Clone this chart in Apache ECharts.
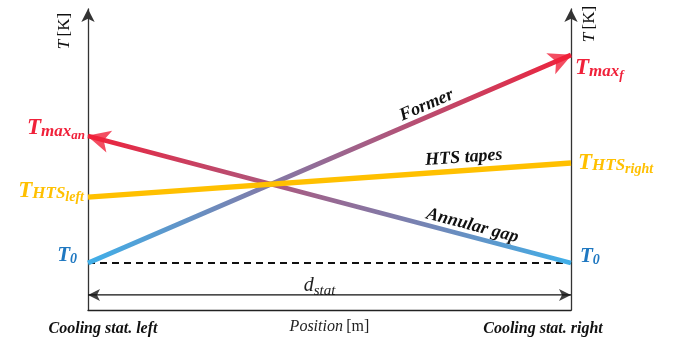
<!DOCTYPE html>
<html>
<head>
<meta charset="utf-8">
<script src="https://cdn.jsdelivr.net/npm/echarts@6/dist/echarts.min.js"></script>
<style>html,body{margin:0;padding:0;background:#fff}</style>
</head>
<body>
<div id="chart" style="width:681px;height:347px"></div>
<script>
// position along the section, left station -> right station (normalised)
const positions = [0, 1]
const tickLabels = ['Cooling stat. left', 'Cooling stat. right']
// schematic temperatures (arbitrary units)
const formerTemp = [1.56, 8.47]
const annularTemp = [5.78, 1.56]
const htsTemp = [3.75, 4.88]
const baseTemp = [1.56, 1.56]
const dstatLevel = [0.5, 0.5]
const yRange = [0, 10]

const BLUE = '#3fb0ea'
const RED = '#f0213a'
const GOLD = '#ffc000'
const T0_BLUE = '#1f78c1'
const SERIF = 'Liberation Serif'

const pairs = (ys) => positions.map((x, i) => [x, ys[i]])

const chart = echarts.init(document.getElementById('chart'))

const grad = (c0, c1) =>
  new echarts.graphic.LinearGradient(0, 0, 1, 0, [
    { offset: 0, color: c0 },
    { offset: 1, color: c1 },
  ])

const yAxisBase = (position) => ({
  type: 'value',
  position,
  min: yRange[0],
  max: yRange[1],
  axisLine: {
    show: true,
    symbol: ['none', 'arrow'],
    symbolSize: [10, 13],
    lineStyle: { color: '#333', width: 1.3 },
  },
  axisTick: { show: false },
  axisLabel: { show: false },
  splitLine: { show: false },
})

const option = {
  animation: false,
  grid: { left: 88, right: 110, top: 9, bottom: 37, outerBoundsMode: 'none' },
  xAxis: {
    type: 'value',
    min: 0,
    max: 1,
    interval: 1,
    axisLine: { show: true, lineStyle: { color: '#222', width: 1.3 } },
    axisTick: { show: false },
    splitLine: { show: false },
    axisLabel: {
      margin: 11,
      formatter: (v) => (v === 0 ? '{l|' + tickLabels[0] + '}' : '{r|' + tickLabels[1] + '}'),
      rich: {
        l: { fontFamily: SERIF, fontSize: 16, fontWeight: 'bold', fontStyle: 'italic', color: '#111', padding: [0, 0, 0, 30] },
        r: { fontFamily: SERIF, fontSize: 16, fontWeight: 'bold', fontStyle: 'italic', color: '#111', padding: [0, 56, 0, 0] },
      },
    },
    name: '{i|Position} {n|[m]}',
    nameLocation: 'middle',
    nameGap: 9,
    nameMoveOverlap: false,
    nameTextStyle: {
      rich: {
        i: { fontFamily: SERIF, fontSize: 16, fontStyle: 'italic', color: '#222' },
        n: { fontFamily: SERIF, fontSize: 16, color: '#222' },
      },
    },
  },
  yAxis: [yAxisBase('left'), yAxisBase('right')],
  series: [
    {
      name: 'Annular gap', type: 'line', data: pairs(annularTemp), symbol: 'none', z: 2,
      lineStyle: { width: 4.8, color: grad(RED, BLUE) },
    },
    {
      name: 'Former', type: 'line', data: pairs(formerTemp), symbol: 'none', z: 3,
      lineStyle: { width: 4.8, color: grad(BLUE, RED) },
    },
    {
      name: 'HTS tapes', type: 'line', data: pairs(htsTemp), symbol: 'none', z: 4,
      lineStyle: { width: 5.5, color: GOLD },
    },
    {
      name: 'T0', type: 'line', data: pairs(baseTemp), symbol: 'none', z: 1,
      lineStyle: { width: 2, color: '#111', type: [7, 5] },
    },
    {
      name: 'd_stat', type: 'line', data: pairs(dstatLevel), symbol: 'none', z: 1,
      lineStyle: { width: 1.3, color: '#111' },
    },
    { id: 'arrows', type: 'scatter', data: [], z: 6, silent: true, clip: false },
  ],
}
chart.setOption(option)

const AX = { xAxisIndex: 0, yAxisIndex: 0 }
const toPx = (p) => chart.convertToPixel(AX, p)

// arrow head (tip at its anchor) on "to", pointing away from "from"
function arrowHead(from, to, size, color, ahead) {
  const a = toPx(from)
  const b = toPx(to)
  const dx = b[0] - a[0]
  const dy = b[1] - a[1]
  const len = Math.hypot(dx, dy)
  const c = [b[0] + (dx / len) * ahead, b[1] + (dy / len) * ahead]
  return {
    value: chart.convertFromPixel(AX, c),
    symbol: 'arrow',
    symbolSize: size,
    symbolRotate: (Math.atan2(-dy, dx) * 180) / Math.PI - 90,
    itemStyle: { color },
  }
}

const L = positions[0]
const R = positions[1]
const arrows = [
  arrowHead([L, formerTemp[0]], [R, formerTemp[1]], [17, 23], RED, 1),
  arrowHead([R, annularTemp[1]], [L, annularTemp[0]], [17, 23], RED, 1),
  arrowHead([R, dstatLevel[1]], [L, dstatLevel[0]], [9, 12], '#111', 0),
  arrowHead([L, dstatLevel[0]], [R, dstatLevel[1]], [9, 12], '#111', 0),
]

// subscripted label, e.g. T_{max_{an}}; lower levels pushed down by top padding
function tLabel(parts, color, sizes, pads) {
  const base = { fontFamily: SERIF, fontWeight: 'bold', fontStyle: 'italic', fill: color, verticalAlign: 'top' }
  const keys = ['a', 'b', 'c']
  const rich = {}
  parts.forEach((p, i) => {
    rich[keys[i]] = Object.assign({}, base, { fontSize: sizes[i], padding: [pads[i], 0, 0, 0] })
  })
  return {
    text: parts.map((p, i) => '{' + keys[i] + '|' + p + '}').join(''),
    rich,
  }
}

function textAt(point, dx, dy, align, label) {
  const p = toPx(point)
  return {
    type: 'text',
    x: p[0] + dx,
    y: p[1] + dy,
    style: Object.assign({ align, verticalAlign: 'top' }, label),
  }
}

// label along a line, at fraction t, lifted by "lift" px
function lineText(ys, t, lift, text) {
  const a = toPx([L, ys[0]])
  const b = toPx([R, ys[1]])
  const ang = Math.atan2(-(b[1] - a[1]), b[0] - a[0])
  return {
    type: 'text',
    x: a[0] + (b[0] - a[0]) * t - Math.sin(ang) * lift,
    y: a[1] + (b[1] - a[1]) * t - Math.cos(ang) * lift,
    rotation: ang,
    style: {
      text, align: 'center', verticalAlign: 'middle',
      fontFamily: SERIF, fontSize: 18, fontWeight: 'bold', fontStyle: 'italic', fill: '#111',
    },
  }
}

const axisTitle = (x, y) => ({
  type: 'text', x, y, rotation: Math.PI / 2,
  style: {
    text: '{i|T} {n|[K]}', align: 'center', verticalAlign: 'middle',
    rich: {
      i: { fontFamily: SERIF, fontSize: 17, fontStyle: 'italic', fill: '#111' },
      n: { fontFamily: SERIF, fontSize: 17, fill: '#111' },
    },
  },
})

const dstatPx = toPx([(L + R) / 2, dstatLevel[0]])
const leftTop = toPx([L, yRange[1]])
const rightTop = toPx([R, yRange[1]])

const big = [23, 17, 13]
const bigPad = [0, 6, 12]
const hts = [23, 17, 14]
const htsPad = [0, 6, 11]

chart.setOption({
  series: [{ id: 'arrows', data: arrows }],
  graphic: [
    textAt([R, formerTemp[1]], 4, 2, 'left', tLabel(['T', 'max', 'f'], RED, big, bigPad)),
    textAt([L, annularTemp[0]], -3, -19, 'right', tLabel(['T', 'max', 'an'], RED, big, bigPad)),
    textAt([L, htsTemp[0]], -4, -18, 'right', tLabel(['T', 'HTS', 'left'], GOLD, hts, htsPad)),
    textAt([R, htsTemp[1]], 7, -12, 'left', tLabel(['T', 'HTS', 'right'], GOLD, hts, htsPad)),
    textAt([L, baseTemp[0]], -11, -18, 'right', tLabel(['T', '0'], T0_BLUE, [21, 14], [0, 7])),
    textAt([R, baseTemp[1]], 9, -17, 'left', tLabel(['T', '0'], T0_BLUE, [21, 14], [0, 7])),
    lineText(formerTemp, 0.71, 11, 'Former'),
    lineText(htsTemp, 0.78, 13, 'HTS tapes'),
    lineText(annularTemp, 0.79, 11, 'Annular gap'),
    {
      type: 'text', x: dstatPx[0] - 10, y: dstatPx[1] - 19,
      style: {
        text: '{d|d}{s|stat}', align: 'center', verticalAlign: 'top',
        rich: {
          d: { fontFamily: SERIF, fontSize: 20, fontStyle: 'italic', fill: '#222', verticalAlign: 'top' },
          s: { fontFamily: SERIF, fontSize: 15, fontStyle: 'italic', fill: '#222', verticalAlign: 'top', padding: [8, 0, 0, 0] },
        },
      },
    },
    axisTitle(leftTop[0] - 23, leftTop[1] + 22),
    axisTitle(rightTop[0] + 19, rightTop[1] + 15),
  ],
})
</script>
</body>
</html>
